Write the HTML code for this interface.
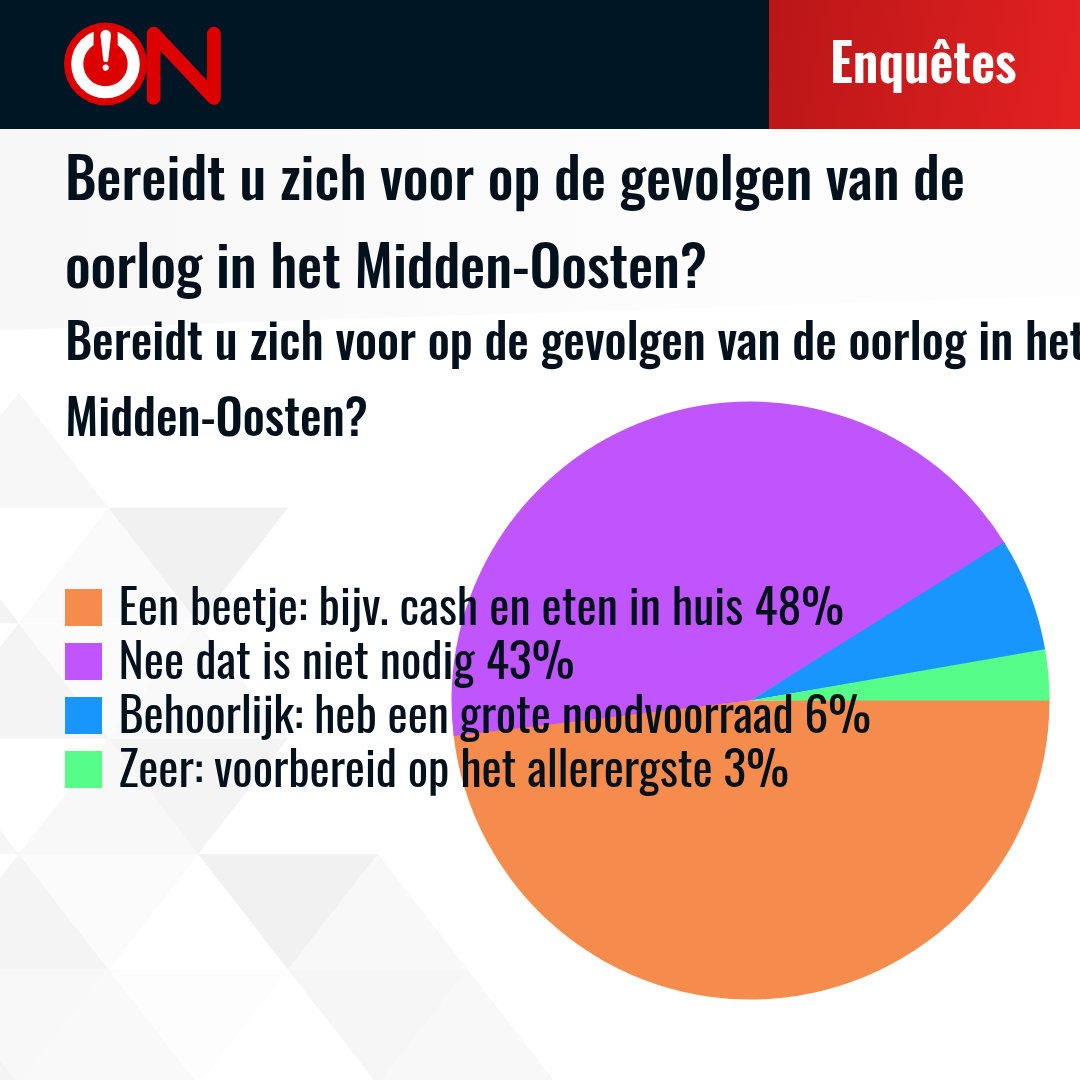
<!DOCTYPE html>
<html lang="nl">
<head>
<meta charset="utf-8">
<title>Enquêtes</title>
<style>
html,body{margin:0;padding:0;}
body{width:1080px;height:1080px;overflow:hidden;position:relative;background:#fff;font-family:"Oswald","Liberation Sans",sans-serif;color:#03111c;}
#bg{position:absolute;left:0;top:0;width:1080px;height:1080px;}
#header{position:absolute;left:0;top:0;width:1080px;height:129px;background:#011625;}
#logo{position:absolute;left:0;top:0;}
#tag{position:absolute;left:769px;top:0;width:311px;height:129px;background:linear-gradient(100deg,#b91618 0%,#e42121 100%);}
#tag span{position:absolute;left:61px;top:-5.4px;font-weight:600;font-size:52px;letter-spacing:0px;color:#fff;line-height:129px;}
.t1{position:absolute;left:64.9px;top:130.9px;margin:0;font-size:56.5px;font-weight:500;line-height:88px;width:1000px;}
.t2{position:absolute;left:65.2px;top:300.2px;margin:0;font-size:48.35px;font-weight:500;line-height:76px;white-space:nowrap;}
#pie{position:absolute;left:0;top:0;}
.legend{position:absolute;left:65px;top:577.1px;}
.li{position:relative;height:54px;}
.sw{position:absolute;left:0;top:12px;width:37px;height:37px;}
.lt{position:absolute;left:53.5px;top:0;font-size:48px;font-weight:400;line-height:54px;white-space:nowrap;}
</style>
</head>
<body>
<svg id="bg" width="1080" height="1080" viewBox="0 0 1080 1080">
<defs><linearGradient id="band" x1="0" y1="0" x2="1" y2="0"><stop offset="0" stop-color="#f7f7f7"/><stop offset="0.37" stop-color="#fafafa"/><stop offset="0.7" stop-color="#fdfdfd"/><stop offset="1" stop-color="#fdfdfd"/></linearGradient></defs>
<polygon points="0,128 1080,128 1080,295.6 0,330.2" fill="url(#band)"/>
<polygon points="18.8,392.4 108.5,507.8 -71.0,507.8" fill="#f7f7f7"/>
<polygon points="-71.0,507.8 18.8,623.2 -160.8,623.2" fill="#f3f3f3"/>
<polygon points="108.5,507.8 198.2,623.2 18.8,623.2" fill="#fafafa"/>
<polygon points="108.5,507.8 288.0,507.8 198.2,623.2" fill="#f1f1f1"/>
<polygon points="18.8,623.2 108.5,738.6 -71.0,738.6" fill="#f4f4f4"/>
<polygon points="18.8,623.2 198.2,623.2 108.5,738.6" fill="#fbfbfb"/>
<polygon points="198.2,623.2 288.0,738.6 108.5,738.6" fill="#f9f9f9"/>
<polygon points="-71.0,738.6 18.8,854.0 -160.8,854.0" fill="#f6f6f6"/>
<polygon points="108.5,738.6 198.2,854.0 18.8,854.0" fill="#f8f8f8"/>
<polygon points="108.5,738.6 288.0,738.6 198.2,854.0" fill="#f4f4f4"/>
<polygon points="18.8,854.0 108.5,969.4 -71.0,969.4" fill="#f4f4f4"/>
<polygon points="18.8,854.0 198.2,854.0 108.5,969.4" fill="#fbfbfb"/>
<polygon points="198.2,854.0 377.8,854.0 288.0,969.4" fill="#f1f1f1"/>
<polygon points="377.8,854.0 467.5,969.4 288.0,969.4" fill="#f8f8f8"/>
<polygon points="-71.0,969.4 108.5,969.4 18.8,1084.8" fill="#f8f8f8"/>
<polygon points="108.5,969.4 198.2,1084.8 18.8,1084.8" fill="#f9f9f9"/>
<polygon points="108.5,969.4 288.0,969.4 198.2,1084.8" fill="#fdfdfd"/>
<polygon points="288.0,969.4 467.5,969.4 377.8,1084.8" fill="#f6f6f6"/>
<polygon points="467.5,969.4 557.2,1084.8 377.8,1084.8" fill="#f8f8f8"/>
<polygon points="-71.0,969.4 18.8,1084.8 -160.8,1084.8" fill="#f4f4f4"/>
</svg>
<div id="header">
  <svg id="logo" width="240" height="128" viewBox="0 0 240 128">
    <circle cx="105.5" cy="64" r="41.5" fill="#dc0000"/>
    <circle cx="105.5" cy="64" r="34.3" fill="#fff"/>
    <circle cx="105.5" cy="64" r="22.2" fill="#dc0000"/>
    <path d="M93.8 26 L117.6 26 L117.8 50 L93.4 50 Z" fill="#dc0000"/>
    <path d="M100.4 35.2 A5.35 5.35 0 0 1 111.1 35.2 L108.3 59.5 A2.55 2.55 0 0 1 103.2 59.5 Z" fill="#fff"/>
    <circle cx="105.7" cy="67.6" r="3.1" fill="#fff"/>
    <path d="M153.6 98 L153.6 33.5 L213.9 98 L213.9 33.5" fill="none" stroke="#dc0000" stroke-width="13.7" stroke-linecap="round" stroke-linejoin="round"/>
  </svg>
  <div id="tag"><span id="enq">Enquêtes</span></div>
</div>
<h1 class="t1"><span id="l1" style="letter-spacing:-0.04px">Bereidt u zich voor op de gevolgen van de</span><br><span id="l2" style="letter-spacing:-0.09px">oorlog in het Midden-Oosten?</span></h1>
<h2 class="t2"><span id="s1">Bereidt u zich voor op de gevolgen van de oorlog in het</span><br><span id="s2">Midden-Oosten?</span></h2>
<svg id="pie" width="1080" height="1080" viewBox="0 0 1080 1080">
<path d="M750.5 700.5 L1049.48 697.37 A299 299 0 0 1 453.25 732.79 Z" fill="#f58b4c"/>
<path d="M750.5 700.5 L453.63 736.11 A299 299 0 0 1 1005.17 543.83 Z" fill="#c055fd"/>
<path d="M750.5 700.5 L1004.15 542.19 A299 299 0 0 1 1045.40 651.15 Z" fill="#1896fd"/>
<path d="M750.5 700.5 L1045.07 649.25 A299 299 0 0 1 1049.50 700.50 Z" fill="#57fd89"/>
</svg>
<div class="legend">
  <div class="li"><div class="sw" style="background:#f58b4c"></div><div class="lt"><span id="g1">Een beetje: bijv. cash en eten in huis 48%</span></div></div>
  <div class="li"><div class="sw" style="background:#c055fd"></div><div class="lt"><span id="g2">Nee dat is niet nodig 43%</span></div></div>
  <div class="li"><div class="sw" style="background:#1896fd"></div><div class="lt" style="letter-spacing:-0.12px"><span id="g3">Behoorlijk: heb een grote noodvoorraad 6%</span></div></div>
  <div class="li"><div class="sw" style="background:#57fd89"></div><div class="lt" style="letter-spacing:-0.11px"><span id="g4">Zeer: voorbereid op het allerergste 3%</span></div></div>
</div>
<script>
(function(){
  var t=document.createElement('span');
  t.style.cssText='position:absolute;left:0;top:0;visibility:hidden;white-space:nowrap;font-size:40px;font-family:monospace';
  t.textContent='Bereidt u zich voor op de gevolgen';
  document.body.appendChild(t);
  var a=t.getBoundingClientRect().width;
  t.style.fontFamily='"Oswald",monospace';
  var b=t.getBoundingClientRect().width;
  document.body.removeChild(t);
  if(Math.abs(a-b)>1)return;
  var L=[['l1',64.89,900.05,200,66.5],['l2',64.89,642.06,288,66.5],['s1',65.19,1020.33,360,56.9],['s2',65.19,302.73,436,56.9],['g1',118.5,725.62,625,56.5],['g2',118.5,456.02,679,56.5],['g3',118.5,752.53,733,56.5],['g4',118.5,670.33,787,56.5],['enq',830,186.53,83,61.2]];
  L.forEach(function(d){
    var e=document.getElementById(d[0]);
    var p=e.offsetParent.getBoundingClientRect();
    var s=e.style;
    s.position='absolute';s.whiteSpace='nowrap';s.fontFamily='"Liberation Sans",Arial,sans-serif';s.fontWeight='700';s.fontSize=d[4]+'px';s.lineHeight='1';s.letterSpacing='0';
    s.left=(d[1]-p.left)+'px';s.top=(d[3]-0.8465*d[4]-p.top)+'px';
    var w=e.getBoundingClientRect().width;
    s.transformOrigin='0 0';s.transform='scaleX('+(d[2]/w)+')';
  });
})();
</script>
</body>
</html>
